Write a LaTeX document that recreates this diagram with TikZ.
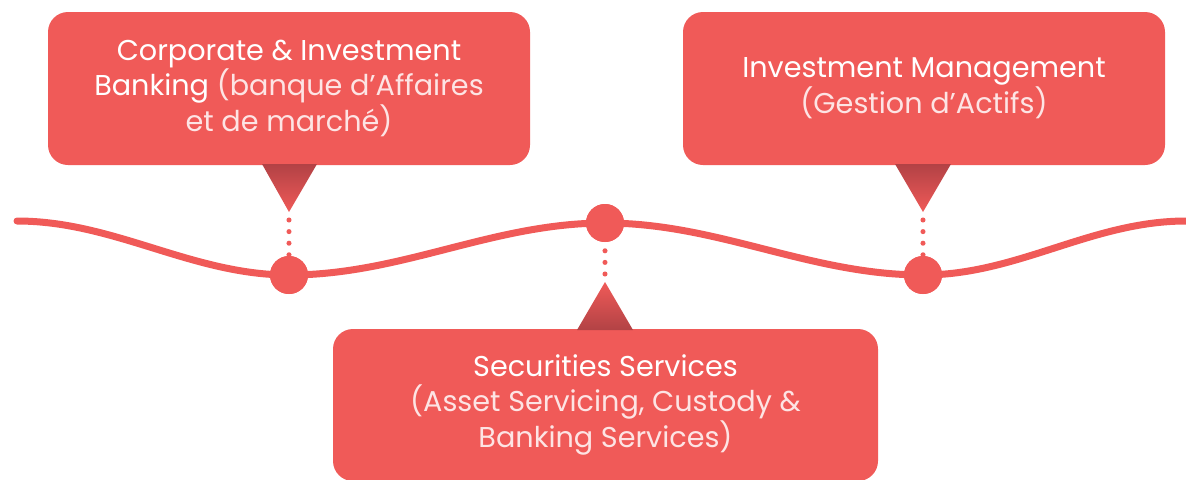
\documentclass[tikz,border=0pt]{standalone}
\usepackage{fontspec}
\setmainfont{Poppins}
\definecolor{brand}{RGB}{240,90,88}
\definecolor{branddark}{RGB}{178,66,69}
\definecolor{subtxt}{RGB}{253,228,228}
\tikzset{
  box/.style={fill=brand, rounded corners=15pt, align=center, text=white, inner sep=0pt,
    font=\fontsize{21.5}{25.8}\selectfont},
  dotc/.style={circle, fill=brand, minimum size=28.5pt, inner sep=0pt},
  wave/.style={draw=brand, line width=5.25pt, line cap=round},
  dotline/.style={draw=brand, line width=3.8pt, line cap=round, dash pattern=on 0pt off 8.7pt},
  sub/.style={text=subtxt}
}
\begin{document}
\begin{tikzpicture}[x=0.75pt,y=-0.75pt]
\useasboundingbox (0,0) rectangle (1186,479);
% boxes
\node[box, minimum width=361.5pt, minimum height=114.75pt] (cib) at (289,88.5)
  {Corporate \& Investment\\Banking {\color{subtxt}(banque d’Affaires}\\{\color{subtxt}et de marché)}};
\node[box, minimum width=361.5pt, minimum height=114.75pt] (im) at (924,88.5)
  {Investment Management\\{\color{subtxt}(Gestion d’Actifs)}};
\node[box, minimum width=408.75pt, minimum height=114pt] (ss) at (605.5,405)
  {Securities Services\\{\color{subtxt}(Asset Servicing, Custody \&}\\{\color{subtxt}Banking Services)}};
% pointer triangles
\coordinate (t1) at (289,212);
\coordinate (t2) at (923,212);
\coordinate (t3) at (605,282);
\shade[top color=branddark, middle color=brand, bottom color=brand]
  (262,164) -- (317,164) -- (t1) -- cycle;
\shade[top color=branddark, middle color=brand, bottom color=brand]
  (895,164) -- (951,164) -- (t2) -- cycle;
\shade[top color=brand, middle color=brand, bottom color=branddark]
  (t3) -- (633,330) -- (577,330) -- cycle;
% wave
\coordinate (w0) at (17,221);
\coordinate (w4) at (1186,221);
\node[dotc] (c1) at (289,275) {};
\node[dotc] (c2) at (605,223) {};
\node[dotc] (c3) at (923,275) {};
\draw[wave] (w0) to[out=0,in=180,looseness=0.9] (c1.center)
  to[out=0,in=180,looseness=0.9] (c2.center)
  to[out=0,in=180,looseness=0.9] (c3.center)
  to[out=0,in=180,looseness=0.9] (w4);
\node[dotc] at (c1) {};
\node[dotc] at (c2) {};
\node[dotc] at (c3) {};
% dotted connectors
\draw[dotline] ([yshift=-6pt]t1) -- (c1.north);
\draw[dotline] ([yshift=-6pt]t2) -- (c3.north);
\draw[dotline] ([yshift=6pt]t3) -- (c2.south);
\end{tikzpicture}
\end{document}
